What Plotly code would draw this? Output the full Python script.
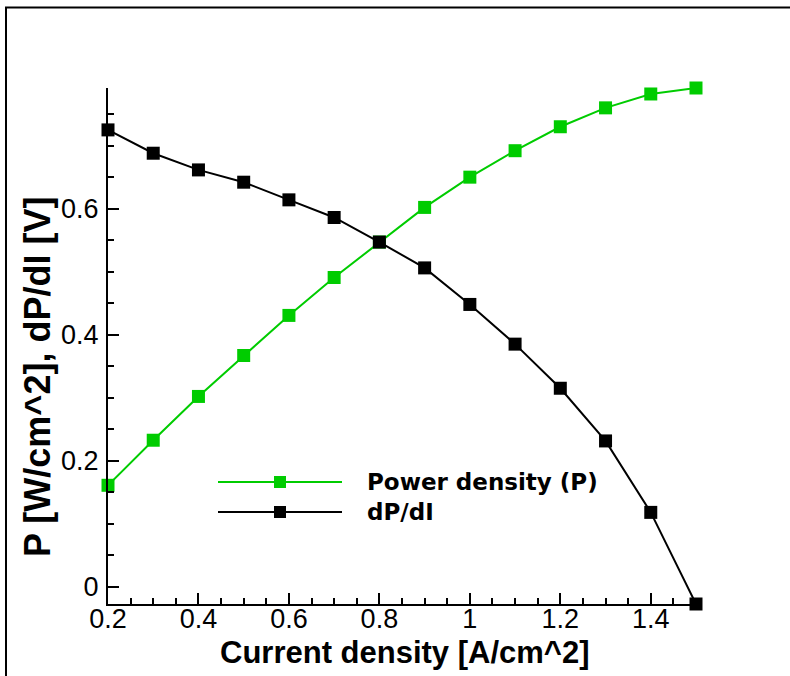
import plotly.graph_objects as go

current = [0.2, 0.3, 0.4, 0.5, 0.6, 0.7, 0.8, 0.9, 1.0, 1.1, 1.2, 1.3, 1.4, 1.5]
power = [0.161, 0.2325, 0.302, 0.367, 0.4306, 0.4908, 0.547, 0.602, 0.650, 0.692, 0.730, 0.760, 0.782, 0.7915]
dpdi = [0.725, 0.688, 0.6615, 0.642, 0.614, 0.586, 0.547, 0.506, 0.448, 0.385, 0.315, 0.2314, 0.118, -0.0274]
series_names = ["Power density (P)", "dP/dI"]
x_title = "Current density [A/cm^2]"
y_title = "P [W/cm^2], dP/dI [V]"

GREEN = "#00cc00"
BLACK = "#000000"

W, H = 790, 676
L, R, T, B = 108, 94, 88, 72
pw, ph = W - L - R, H - T - B

def px(xp):
    return (xp - L) / pw

def py(yp):
    return (H - B - yp) / ph

fig = go.Figure()
fig.add_trace(go.Scatter(x=current, y=power, mode="lines+markers", name=series_names[0],
                         line=dict(color=GREEN, width=2),
                         marker=dict(symbol="square", size=13, color=GREEN),
                         cliponaxis=False, showlegend=False))
fig.add_trace(go.Scatter(x=current, y=dpdi, mode="lines+markers", name=series_names[1],
                         line=dict(color=BLACK, width=2),
                         marker=dict(symbol="square", size=13, color=BLACK),
                         cliponaxis=False, showlegend=False))

tickfont = dict(family="Liberation Sans, Arial, sans-serif", size=27, color="black")
fig.update_xaxes(range=[min(current), max(current)], tick0=0.2, dtick=0.2,
                 showline=True, linecolor="black", linewidth=2, mirror=False,
                 ticks="inside", ticklen=11, tickwidth=2, tickcolor="black",
                 minor=dict(ticks="inside", dtick=0.05, tick0=0.2, ticklen=6, tickwidth=1.5, tickcolor="black"),
                 showgrid=False, zeroline=False, tickfont=tickfont, ticklabelstandoff=-10)
fig.update_yaxes(range=[min(dpdi), max(power)], tick0=0, dtick=0.2,
                 showline=True, linecolor="black", linewidth=2, mirror=False,
                 ticks="inside", ticklen=11, tickwidth=2, tickcolor="black",
                 minor=dict(ticks="inside", dtick=0.05, tick0=0, ticklen=6, tickwidth=1.5, tickcolor="black"),
                 showgrid=False, zeroline=False, tickfont=tickfont, ticklabelstandoff=2)

shapes = []
# frame (left and top edges visible)
shapes.append(dict(type="rect", xref="paper", yref="paper", x0=px(6), x1=px(820), y0=py(710), y1=py(7.5),
                   line=dict(color="black", width=2), fillcolor="rgba(0,0,0,0)", layer="below"))
# legend samples
leg_y = [482, 512]
cols = [GREEN, BLACK]
for yy, c in zip(leg_y, cols):
    shapes.append(dict(type="line", xref="paper", yref="paper", x0=px(218), x1=px(342), y0=py(yy), y1=py(yy),
                       line=dict(color=c, width=2)))
    shapes.append(dict(type="rect", xref="paper", yref="paper", xsizemode="pixel", ysizemode="pixel",
                       xanchor=px(280), yanchor=py(yy), x0=-6, x1=6, y0=-6, y1=6,
                       line=dict(color=c, width=0), fillcolor=c))

annotations = []
for yy, name in zip(leg_y, series_names):
    annotations.append(dict(x=px(365), y=py(yy), xref="paper", yref="paper", text="<b>%s</b>" % name,
                            showarrow=False, xanchor="left", yanchor="middle",
                            font=dict(family="DejaVu Sans, sans-serif", size=23, color="black")))
annotations.append(dict(x=px(405), y=py(652), xref="paper", yref="paper", text="<b>%s</b>" % x_title,
                        showarrow=False, xanchor="center", yanchor="middle",
                        font=dict(family="Liberation Sans, Arial, sans-serif", size=31, color="black")))
annotations.append(dict(x=px(37), y=py(377), xref="paper", yref="paper", text="<b>%s</b>" % y_title,
                        showarrow=False, xanchor="center", yanchor="middle", textangle=-90,
                        font=dict(family="Liberation Sans, Arial, sans-serif", size=36, color="black")))

fig.update_layout(width=W, height=H, margin=dict(l=L, r=R, t=T, b=B),
                  paper_bgcolor="white", plot_bgcolor="white",
                  shapes=shapes, annotations=annotations, showlegend=False)

fig.write_html("out.html")
